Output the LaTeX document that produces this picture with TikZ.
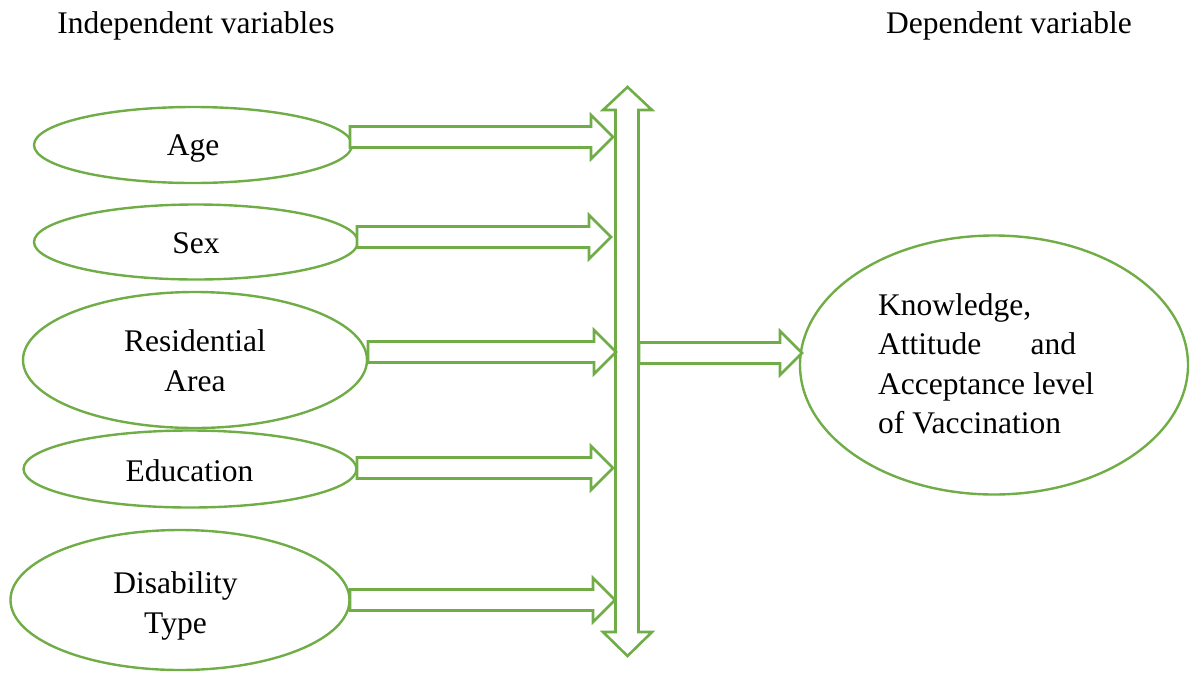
\documentclass[tikz,border=0pt]{standalone}
\usepackage{fontspec}
\setmainfont{Liberation Serif}
\usetikzlibrary{shapes.geometric}
\definecolor{vgreen}{HTML}{70AD47}
\tikzset{
  var/.style={ellipse, draw=vgreen, line width=2.4pt, inner sep=0pt},
  blockarrow/.style={draw=vgreen, line width=2.6pt, fill=white, line join=miter},
  txt/.style={font=\fontsize{31.5}{40}\selectfont, inner sep=0pt}
}
\newcommand\harrow[3]{\draw[blockarrow] (#1,#3-10.5) -- (#2-22,#3-10.5) -- (#2-22,#3-22) -- (#2,#3) -- (#2-22,#3+22) -- (#2-22,#3+10.5) -- (#1,#3+10.5) -- cycle;}
\begin{document}
\begin{tikzpicture}[x=1pt,y=-1pt]
\useasboundingbox (0,0) rectangle (1190,675);
% titles
\node[txt, anchor=base] (indep) at (196,33) {Independent variables};
\node[txt, anchor=base] (dep) at (1009,33) {Dependent variable};
% independent variables
\node[var, minimum width=318pt, minimum height=76pt] (age) at (193,145) {};
\node[txt, anchor=base] (agetext) at (193,155) {Age};
\node[var, minimum width=324pt, minimum height=75pt] (sex) at (196,242) {};
\node[txt, anchor=base] (sextext) at (196,253) {Sex};
\node[var, minimum width=344pt, minimum height=136pt] (res) at (195,360) {};
\node[txt, anchor=base, align=center] (restext) at (195,391) {Residential\\Area};
\node[var, minimum width=333pt, minimum height=77pt] (edu) at (190,469) {};
\node[txt, anchor=base] (edutext) at (189.5,481) {Education};
\node[var, minimum width=339pt, minimum height=140pt] (dis) at (180,600) {};
\node[txt, anchor=base, align=center] (distext) at (175.5,633) {Disability\\Type};
% dependent variable
\node[var, minimum width=388pt, minimum height=259pt] (out) at (994,365) {};
\node[txt, anchor=base west, align=left, font=\fontsize{31.5}{39.5}\selectfont] (outtext) at (878,433.5)
  {Knowledge,\\\hbox to 198pt{Attitude\hfill and}\\Acceptance level\\of Vaccination};
% vertical double arrow
\draw[blockarrow] (615.5,110) -- (603,110) -- (627.5,87) -- (652,110) -- (638.5,110)
  -- (638.5,632) -- (652,632) -- (627.5,656) -- (603,632) -- (615.5,632) -- cycle;
% horizontal block arrows
\harrow{350}{613}{137}
\harrow{357}{611}{237}
\harrow{368}{616}{352}
\harrow{357}{613}{468}
\harrow{350}{615}{600}
\harrow{639}{802}{353}
\end{tikzpicture}
\end{document}
